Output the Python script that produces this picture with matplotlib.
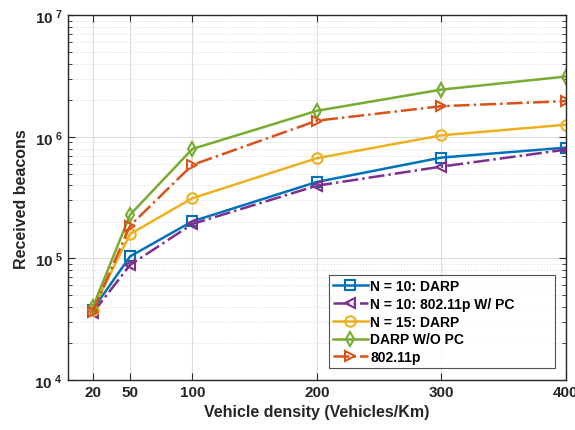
import numpy as np
import matplotlib
matplotlib.use('Agg')
import matplotlib.pyplot as plt
from matplotlib.ticker import FixedLocator, FixedFormatter, LogLocator, NullFormatter

plt.rcParams['font.family'] = ['Liberation Sans', 'DejaVu Sans']
plt.rcParams['font.weight'] = 'bold'
plt.rcParams['mathtext.fontset'] = 'custom'
plt.rcParams['mathtext.rm'] = 'Liberation Sans:bold'
plt.rcParams['mathtext.bf'] = 'Liberation Sans:bold'

# 차량 밀도 (Vehicles/Km)
density = [20, 50, 100, 200, 300, 400]

# 수신된 비콘 수
darp_n10 = [3.8e4, 1.04e5, 2.02e5, 4.26e5, 6.76e5, 8.16e5]
p80211_pc_n10 = [3.56e4, 8.85e4, 1.92e5, 3.97e5, 5.70e5, 7.86e5]
darp_n15 = [3.8e4, 1.59e5, 3.13e5, 6.68e5, 1.03e6, 1.26e6]
darp_wo_pc = [3.96e4, 2.29e5, 7.96e5, 1.64e6, 2.45e6, 3.14e6]
p80211 = [3.65e4, 1.86e5, 5.88e5, 1.36e6, 1.79e6, 1.97e6]

labels = ['N = 10: DARP', 'N = 10: 802.11p W/ PC', 'N = 15: DARP',
          'DARP W/O PC', '802.11p']
y_ticks = [1e4, 1e5, 1e6, 1e7]
y_tick_labels = [r'$\mathbf{10^{\ 4}}$', r'$\mathbf{10^{\ 5}}$',
                 r'$\mathbf{10^{\ 6}}$', r'$\mathbf{10^{\ 7}}$']

series = [darp_n10, p80211_pc_n10, darp_n15, darp_wo_pc, p80211]
colors = ['#0072BD', '#7E2F8E', '#EDB120', '#77AC30', '#D95319']
markers = ['s', '<', 'o', 'd', '>']
sizes = [6.5, 7.5, 7.5, 7.5, 7.5]
styles = ['-', '-.', '-', '-', '-.']

fig, ax = plt.subplots(figsize=(5.75, 4.31), dpi=100)
fig.subplots_adjust(left=0.118, right=0.984, top=0.962, bottom=0.116)

for ys, lab, c, m, ms, ls in zip(series, labels, colors, markers, sizes, styles):
    ax.plot(density, ys, linestyle=ls, color=c, marker=m, markersize=ms,
            markerfacecolor='none', markeredgewidth=1.5, linewidth=1.8,
            label=lab)

ax.set_yscale('log')
ax.set_xlim(0, 400)
ax.set_ylim(1e4, 1e7)
ax.xaxis.set_major_locator(FixedLocator(density))
ax.yaxis.set_major_locator(FixedLocator(y_ticks))
ax.yaxis.set_major_formatter(FixedFormatter(y_tick_labels))
ax.yaxis.set_minor_locator(LogLocator(base=10, subs=np.arange(2, 10)))
ax.yaxis.set_minor_formatter(NullFormatter())

ax.grid(True, which='major', color='#dcdcdc', linestyle='-', linewidth=0.8)
ax.grid(True, which='minor', axis='y', color='#d8d8d8', linestyle=(0, (1, 2)), linewidth=0.7)
ax.tick_params(which='both', direction='in', top=True, right=True,
               colors='#262626', labelsize=11)
ax.tick_params(which='major', length=5)
ax.tick_params(which='minor', length=3)
for sp in ax.spines.values():
    sp.set_color('#262626')
    sp.set_linewidth(1.0)

ax.set_xlabel('Vehicle density (Vehicles/Km)', fontsize=11.5, fontweight='bold',
              color='#262626')
ax.set_ylabel('Received beacons', fontsize=11.5, fontweight='bold',
              color='#262626')

leg = ax.legend(loc='lower left', bbox_to_anchor=(0.524, 0.032, 0.455, 0.25),
                mode='expand', fontsize=10,
                frameon=True, fancybox=False, edgecolor='#262626',
                handlelength=2.5, handletextpad=0.17, borderpad=0.3,
                labelspacing=0.27, borderaxespad=0)
leg.get_frame().set_linewidth(0.8)

plt.savefig('out.png', dpi=100)
